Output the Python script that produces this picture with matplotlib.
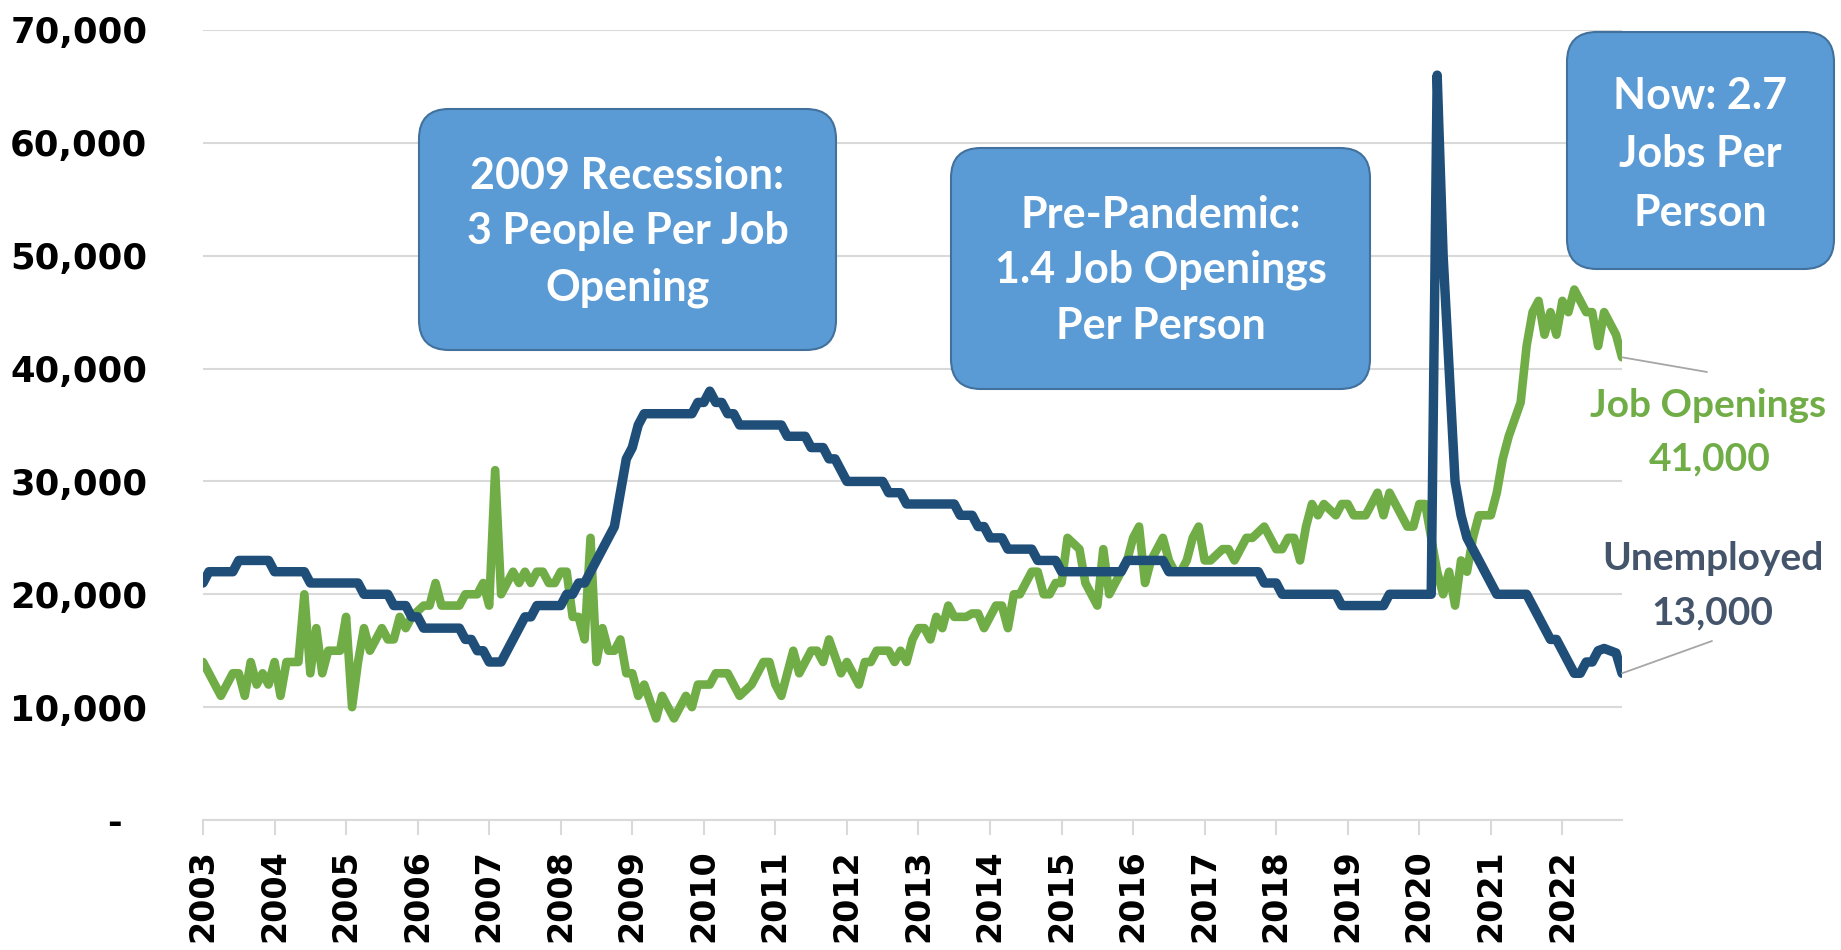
import matplotlib
matplotlib.use("Agg")
import matplotlib.pyplot as plt
from matplotlib.patches import FancyBboxPatch
from matplotlib.transforms import IdentityTransform
import numpy as np

# Monthly data, Jan 2003 - Nov 2022, values in thousands
years = [str(y) for y in range(2003, 2023)]

job_openings_k = [
    14, 13, 12, 11, 12, 13, 13, 11, 14, 12, 13, 12,          # 2003
    14, 11, 14, 14, 14, 20, 13, 17, 13, 15, 15, 15,          # 2004
    18, 10, 14, 17, 15, 16, 17, 16, 16, 18, 17, 18,          # 2005
    18.5, 19, 19, 21, 19, 19, 19, 19, 20, 20, 20, 21,        # 2006
    19, 31, 20, 21, 22, 21, 22, 21, 22, 22, 21, 21,          # 2007
    22, 22, 18, 18, 16, 25, 14, 17, 15, 15, 16, 13,          # 2008
    13, 11, 12, 10.5, 9, 11, 10, 9, 10, 11, 10, 12,          # 2009
    12, 12, 13, 13, 13, 12, 11, 11.5, 12, 13, 14, 14,        # 2010
    12, 11, 13, 15, 13, 14, 15, 15, 14, 16, 14.5, 13,        # 2011
    14, 13, 12, 14, 14, 15, 15, 15, 14, 15, 14, 16,          # 2012
    17, 17, 16, 18, 17, 19, 18, 18, 18, 18.3, 18.3, 17,      # 2013
    18, 19, 19, 17, 20, 20, 21, 22, 22, 20, 20, 21,          # 2014
    21, 25, 24.5, 24, 21, 20, 19, 24, 20, 21, 22, 23,        # 2015
    25, 26, 21, 23, 24, 25, 23, 22, 22, 23, 25, 26,          # 2016
    23, 23, 23.5, 24, 24, 23, 24, 25, 25, 25.5, 26, 25,      # 2017
    24, 24, 25, 25, 23, 26, 28, 27, 28, 27.5, 27, 28,        # 2018
    28, 27, 27, 27, 28, 29, 27, 29, 28, 27, 26, 26,          # 2019
    28, 28, 25, 22, 20, 22, 19, 23, 22, 25, 27, 27,          # 2020
    27, 29, 32, 34, 35.5, 37, 42, 45, 46, 43, 45, 43,        # 2021
    46, 45, 47, 46, 45, 45, 42, 45, 44, 43, 41,              # 2022
]

unemployed_k = [
    21, 22, 22, 22, 22, 22, 23, 23, 23, 23, 23, 23,          # 2003
    22, 22, 22, 22, 22, 22, 21, 21, 21, 21, 21, 21,          # 2004
    21, 21, 21, 20, 20, 20, 20, 20, 19, 19, 19, 18,          # 2005
    18, 17, 17, 17, 17, 17, 17, 17, 16, 16, 15, 15,          # 2006
    14, 14, 14, 15, 16, 17, 18, 18, 19, 19, 19, 19,          # 2007
    19, 20, 20, 21, 21, 22, 23, 24, 25, 26, 29, 32,          # 2008
    33, 35, 36, 36, 36, 36, 36, 36, 36, 36, 36, 37,          # 2009
    37, 38, 37, 37, 36, 36, 35, 35, 35, 35, 35, 35,          # 2010
    35, 35, 34, 34, 34, 34, 33, 33, 33, 32, 32, 31,          # 2011
    30, 30, 30, 30, 30, 30, 30, 29, 29, 29, 28, 28,          # 2012
    28, 28, 28, 28, 28, 28, 28, 27, 27, 27, 26, 26,          # 2013
    25, 25, 25, 24, 24, 24, 24, 24, 23, 23, 23, 23,          # 2014
    22, 22, 22, 22, 22, 22, 22, 22, 22, 22, 22, 23,          # 2015
    23, 23, 23, 23, 23, 23, 22, 22, 22, 22, 22, 22,          # 2016
    22, 22, 22, 22, 22, 22, 22, 22, 22, 22, 21, 21,          # 2017
    21, 20, 20, 20, 20, 20, 20, 20, 20, 20, 20, 19,          # 2018
    19, 19, 19, 19, 19, 19, 19, 20, 20, 20, 20, 20,          # 2019
    20, 20, 20, 66, 50, 40, 30, 27, 25, 24, 23, 22,          # 2020
    21, 20, 20, 20, 20, 20, 20, 19, 18, 17, 16, 16,          # 2021
    15, 14, 13, 13, 14, 14, 15, 15.2, 15, 14.8, 13,          # 2022
]

callouts = [
    ("2009 Recession:", "3 People Per Job", "Opening"),
    ("Pre-Pandemic:", "1.4 Job Openings", "Per Person"),
    ("Now: 2.7", "Jobs Per", "Person"),
]

GREEN = "#70AD47"
NAVY = "#1F4E79"
GRID = "#D9D9D9"
W, H = 1841, 950

jobs = np.array(job_openings_k) * 1000
unemp = np.array(unemployed_k) * 1000
months = np.arange(len(jobs))

fig = plt.figure(figsize=(W / 100, H / 100), dpi=100)
ax = fig.add_axes([203 / W, 130 / H, (1622 - 203) / W, 790 / H])

ax.plot(months, jobs, color=GREEN, lw=6.2, solid_joinstyle="round",
        solid_capstyle="round", zorder=2)
ax.plot(months, unemp, color=NAVY, lw=6.8, solid_joinstyle="round",
        solid_capstyle="round", zorder=3)

ax.set_xlim(0, len(jobs) - 1)
ax.set_ylim(0, 70000)

yt = list(range(0, 70001, 10000))
ax.set_yticks(yt)
ax.set_yticklabels(["-  " if v == 0 else f"{v:,}" for v in yt],
                   fontsize=25.5, fontweight="bold")
ax.tick_params(axis="y", length=0, pad=40)
ax.yaxis.grid(True, color=GRID, lw=1.5)
ax.set_axisbelow(True)

ax.set_xticks(months[::12])
ax.set_xticklabels(years, rotation=90, fontsize=24, fontweight="bold")
ax.tick_params(axis="x", length=11, width=1.5, color=GRID, pad=10)

for s in ["left", "top", "right"]:
    ax.spines[s].set_visible(False)
ax.spines["bottom"].set_color(GRID)
ax.spines["bottom"].set_linewidth(1.5)

# call-out boxes (pixel coords, y from top)
boxes = [(419, 109, 836, 350, [176, 231, 288]),
         (951, 148, 1370, 389, [215, 270, 326]),
         (1567, 32, 1834, 269, [96, 154, 213])]
for (x0, y0, x1, y1, ys), lines in zip(boxes, callouts):
    patch = FancyBboxPatch((x0, H - y1), x1 - x0, y1 - y0,
                           boxstyle="round,pad=0,rounding_size=30",
                           transform=IdentityTransform(),
                           facecolor="#5B9BD5", edgecolor="#41719C", lw=1.5)
    fig.add_artist(patch)
    cx = (x0 + x1) / 2
    for txt, yy in zip(lines, ys):
        fig.text(cx / W, 1 - yy / H, txt, ha="center", va="center",
                 color="white", fontsize=31, fontweight="bold", family="Lato")

# end labels with leader lines
ax.annotate("", xy=(months[-1], jobs[-1]), xytext=(1707, H - 372),
            textcoords="figure pixels",
            arrowprops=dict(arrowstyle="-", color="#A6A6A6", lw=1.3,
                            shrinkA=0, shrinkB=0))
ax.annotate("", xy=(months[-1], unemp[-1]), xytext=(1712, H - 641),
            textcoords="figure pixels",
            arrowprops=dict(arrowstyle="-", color="#A6A6A6", lw=1.3,
                            shrinkA=0, shrinkB=0))

fig.text(1708 / W, 1 - 417 / H, "Job Openings", ha="center", va="baseline",
         color=GREEN, fontsize=28, fontweight="bold", family="Lato")
fig.text(1710 / W, 1 - 470 / H, f"{jobs[-1]:,.0f}", ha="center", va="baseline",
         color=GREEN, fontsize=28, fontweight="bold", family="Lato")
fig.text(1713 / W, 1 - 570 / H, "Unemployed", ha="center", va="baseline",
         color="#44546A", fontsize=28, fontweight="bold", family="Lato")
fig.text(1712 / W, 1 - 624 / H, f"{unemp[-1]:,.0f}", ha="center", va="baseline",
         color="#44546A", fontsize=28, fontweight="bold", family="Lato")

fig.savefig("out.png", dpi=100)
